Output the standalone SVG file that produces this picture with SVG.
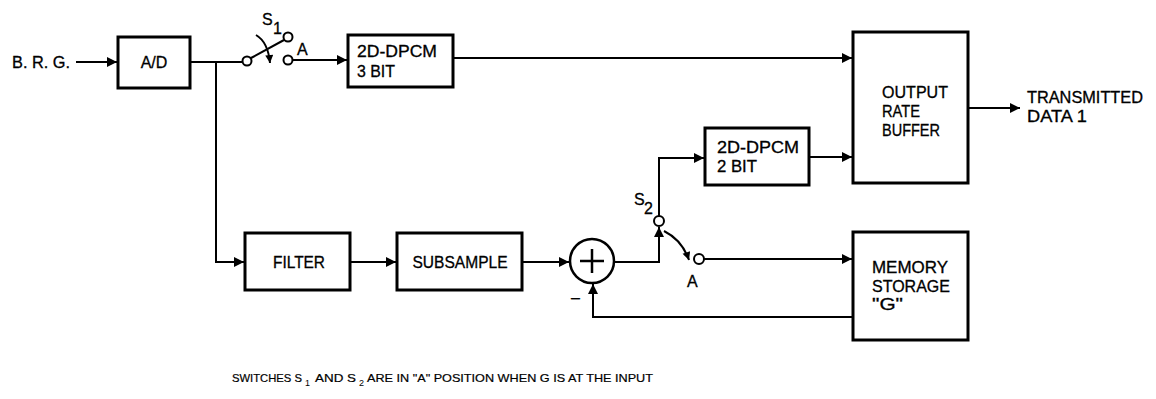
<svg xmlns="http://www.w3.org/2000/svg" width="1156" height="399" viewBox="0 0 1156 399">
<style>
.box{fill:#fff;stroke:#000;stroke-width:3}
.ln{fill:none;stroke:#000;stroke-width:2}
.ct{fill:#fff;stroke:#000;stroke-width:2}
.t{font-family:"Liberation Sans",Arial,sans-serif;font-size:16px;fill:#000;stroke:#000;stroke-width:0.3}
.s{font-family:"Liberation Sans",Arial,sans-serif;font-size:11.5px;fill:#000;stroke:#000;stroke-width:0.2}
.ss{font-family:"Liberation Sans",Arial,sans-serif;font-size:9px;fill:#000}
</style>
<defs>
<marker id="ar" viewBox="0 0 10 10" refX="10" refY="5" markerWidth="12" markerHeight="10" markerUnits="userSpaceOnUse" orient="auto">
<path d="M0,0 L10,5 L0,10 z" fill="#000"/>
</marker>
<marker id="ars" viewBox="0 0 10 10" refX="10" refY="5" markerWidth="9" markerHeight="8" markerUnits="userSpaceOnUse" orient="auto">
<path d="M0,0 L10,5 L0,10 z" fill="#000"/>
</marker>
</defs>
<rect width="1156" height="399" fill="#fff"/>

<g id="connectors">
<path class="ln" d="M76,62 H117" marker-end="url(#ar)"/>
<path class="ln" d="M190,62 H242"/>
<path class="ln" d="M216,62 V262 H244" marker-end="url(#ar)"/>
<path class="ln" d="M293,60 H347" marker-end="url(#ar)"/>
<path class="ln" d="M453,58 H852" marker-end="url(#ar)"/>
<path class="ln" d="M809,157 H852" marker-end="url(#ar)"/>
<path class="ln" d="M968,108 H1020" marker-end="url(#ar)"/>
<path class="ln" d="M350,262 H396" marker-end="url(#ar)"/>
<path class="ln" d="M522,262 H569" marker-end="url(#ar)"/>
<path class="ln" d="M614,262 H659 V227" marker-end="url(#ar)"/>
<path class="ln" d="M659,216 V158 H704" marker-end="url(#ar)"/>
<path class="ln" d="M704,259 H852" marker-end="url(#ar)"/>
<path class="ln" d="M853,317 H593 V284" marker-end="url(#ar)"/>
</g>

<g id="switch-s1">
<line class="ln" x1="251" y1="58" x2="284" y2="40"/>
<path class="ln" d="M256,35 Q268,42 270,63" marker-end="url(#ars)"/>
<circle class="ct" cx="247" cy="61" r="4.5"/>
<circle class="ct" cx="288" cy="37" r="4.5"/>
<circle class="ct" cx="288" cy="60" r="4.5"/>
<text class="t" x="262" y="25" font-size="15">S</text>
<text class="t" x="273" y="34" font-size="12">1</text>
<text class="t" x="297" y="55" font-size="15">A</text>
</g>

<g id="switch-s2">
<path class="ln" d="M664,231 Q682,240 689,260" marker-end="url(#ars)"/>
<circle class="ct" cx="659" cy="221" r="5"/>
<circle class="ct" cx="699" cy="259" r="5"/>
<text class="t" x="634" y="205" font-size="15">S</text>
<text class="t" x="644" y="214" font-size="12">2</text>
<text class="t" x="687" y="287" font-size="15">A</text>
</g>

<g id="input">
<text class="t" x="12" y="68" textLength="58" lengthAdjust="spacingAndGlyphs">B. R. G.</text>
</g>

<g id="ad">
<rect class="box" x="118" y="37" width="72" height="51"/>
<text class="t" x="154" y="68" text-anchor="middle">A/D</text>
</g>

<g id="dpcm3">
<rect class="box" x="348" y="35" width="105" height="52"/>
<text class="t" x="357" y="57" textLength="80" lengthAdjust="spacingAndGlyphs">2D-DPCM</text>
<text class="t" x="357" y="77" textLength="38" lengthAdjust="spacingAndGlyphs">3 BIT</text>
</g>

<g id="dpcm2">
<rect class="box" x="705" y="128" width="104" height="57"/>
<text class="t" x="717" y="153" textLength="82" lengthAdjust="spacingAndGlyphs">2D-DPCM</text>
<text class="t" x="717" y="172" textLength="40" lengthAdjust="spacingAndGlyphs">2 BIT</text>
</g>

<g id="buffer">
<rect class="box" x="853" y="32" width="115" height="151"/>
<text class="t" x="882" y="98" textLength="66" lengthAdjust="spacingAndGlyphs">OUTPUT</text>
<text class="t" x="882" y="117" textLength="38" lengthAdjust="spacingAndGlyphs">RATE</text>
<text class="t" x="882" y="136" textLength="58" lengthAdjust="spacingAndGlyphs">BUFFER</text>
</g>

<g id="output">
<text class="t" x="1027" y="103" textLength="116" lengthAdjust="spacingAndGlyphs">TRANSMITTED</text>
<text class="t" x="1027" y="122" textLength="60" lengthAdjust="spacingAndGlyphs">DATA 1</text>
</g>

<g id="filter">
<rect class="box" x="245" y="233" width="105" height="57"/>
<text class="t" x="299" y="268" text-anchor="middle" textLength="52" lengthAdjust="spacingAndGlyphs">FILTER</text>
</g>

<g id="subsample">
<rect class="box" x="397" y="233" width="125" height="57"/>
<text class="t" x="460" y="268" text-anchor="middle" textLength="95" lengthAdjust="spacingAndGlyphs">SUBSAMPLE</text>
</g>

<g id="sum">
<circle cx="592" cy="261" r="22" fill="#fff" stroke="#000" stroke-width="2.5"/>
<path d="M580,261 H604 M592,249 V273" stroke="#000" stroke-width="2.5" fill="none"/>
<text class="t" x="571" y="303">–</text>
</g>

<g id="memory">
<rect class="box" x="853" y="232" width="115" height="108"/>
<text class="t" x="872" y="273" textLength="76" lengthAdjust="spacingAndGlyphs">MEMORY</text>
<text class="t" x="872" y="292" textLength="78" lengthAdjust="spacingAndGlyphs">STORAGE</text>
<text class="t" x="872" y="310" textLength="31" lengthAdjust="spacingAndGlyphs">"G"</text>
</g>

<g id="caption">
<text class="s" x="232" y="382" textLength="70" lengthAdjust="spacingAndGlyphs">SWITCHES S</text>
<text class="ss" x="305" y="386">1</text>
<text class="s" x="315" y="382" textLength="41" lengthAdjust="spacingAndGlyphs">AND S</text>
<text class="ss" x="359" y="386">2</text>
<text class="s" x="367" y="382" textLength="286" lengthAdjust="spacingAndGlyphs">ARE IN "A" POSITION WHEN G IS AT THE INPUT</text>
</g>
</svg>
